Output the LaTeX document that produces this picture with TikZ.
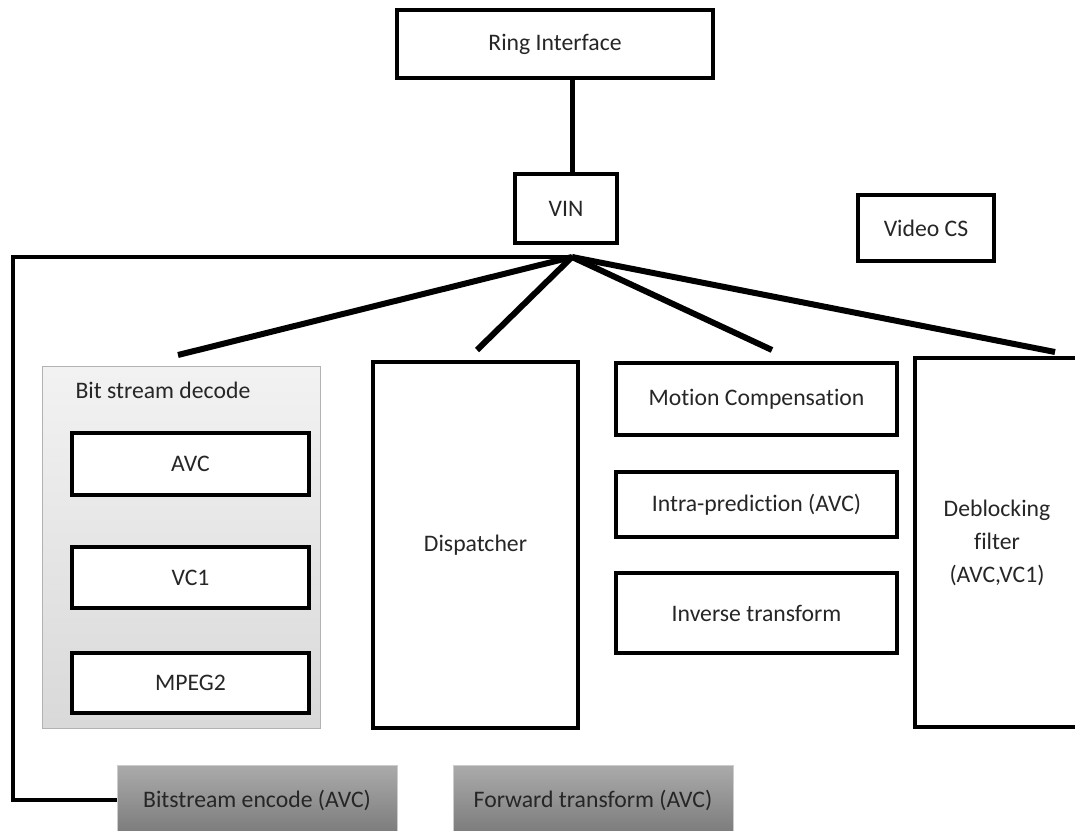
\documentclass[tikz,border=0pt]{standalone}
\usepackage{fontspec}
\setmainfont{Carlito}[Ligatures=NoCommon]
\tikzset{
    blk/.style={draw=black, line width=4pt, fill=white, text=black!85, font=\fontsize{23.7}{33}\selectfont, align=center, inner sep=0pt},
    grp/.style={draw=black!30, line width=1pt, top color=black!5, bottom color=black!15},
    enc/.style={draw=black!20, line width=1pt, top color=black!33, bottom color=black!52, text=black!85, font=\fontsize{23.7}{28}\selectfont, inner sep=0pt},
    wire/.style={line width=6pt},
}
\begin{document}
\begin{tikzpicture}[x=1pt, y=-1pt]
                \useasboundingbox (0,0) rectangle (1075,830);
                \node[blk, minimum width=316pt, minimum height=68pt] (ring) at (555,44) {Ring Interface};
                \node[blk, minimum width=102pt, minimum height=69pt] (vin) at (566,208.5) {VIN};
                \node[blk, minimum width=136pt, minimum height=66pt] (vcs) at (926,228) {Video CS};
                \node[grp, minimum width=278pt, minimum height=362pt] (bsd) at (181,547) {};
                \node[anchor=west, text=black!85, font=\fontsize{23.7}{28}\selectfont] (bsdlabel) at (72,390) {Bit stream decode};
                \node[blk, minimum width=237pt, minimum height=62pt] (avc) at (190.5,464) {AVC};
                \node[blk, minimum width=237pt, minimum height=61pt] (vc1) at (190.5,577.5) {VC1};
                \node[blk, minimum width=237pt, minimum height=60pt] (mpeg) at (190.5,683) {MPEG2};
                \node[blk, minimum width=205pt, minimum height=366pt] (disp) at (475.5,545) {Dispatcher};
                \node[blk, minimum width=281pt, minimum height=72pt] (mc) at (756.5,399) {Motion Compensation};
                \node[blk, minimum width=281pt, minimum height=65pt] (intra) at (756.5,504.5) {Intra-prediction (AVC)};
                \node[blk, minimum width=281pt, minimum height=80pt] (inv) at (756.5,613) {Inverse transform};
                \node[blk, minimum width=164pt, minimum height=369pt] (dbf) at (997,542.5) {Deblocking\\filter\\(AVC,VC1)};
                \node[enc, minimum width=280pt, minimum height=70pt] (bse) at (257,800) {Bitstream encode (AVC)};
                \node[enc, minimum width=280pt, minimum height=70pt] (fwd) at (593,800) {Forward transform (AVC)};
                \coordinate (hub) at (572,257);
                \coordinate (loop) at (13,257);
                \coordinate (bsdin) at (178,355);
                \coordinate (dispin) at (477,350);
                \coordinate (mcin) at (772,350);
                \coordinate (dbfin) at (1055,352);
                \draw[line width=5pt] (vin.north -| hub) -- (ring.south -| hub);
                \draw[line width=4pt] (hub) -- (loop) |- (bse.west);
                \draw[wire] (hub) -- (bsdin);
                \draw[wire] (hub) -- (dispin);
                \draw[wire] (hub) -- (mcin);
                \draw[wire] (hub) -- (dbfin);
            \end{tikzpicture}
\end{document}
